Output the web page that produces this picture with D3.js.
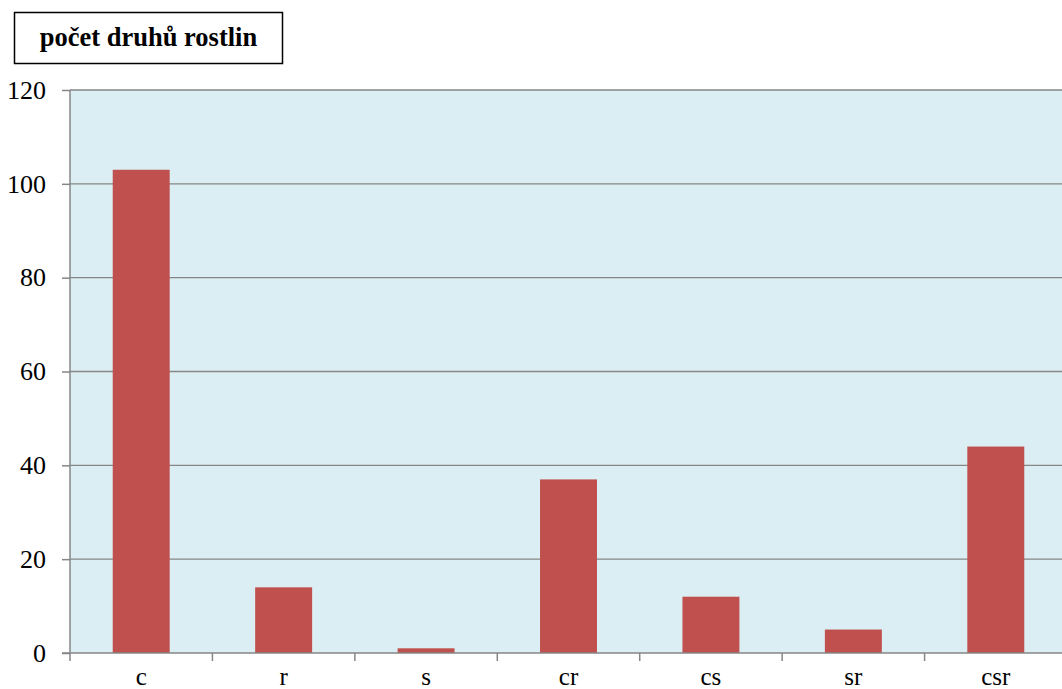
<!DOCTYPE html>
<html>
<head>
<meta charset="utf-8">
<script src="https://cdn.jsdelivr.net/npm/d3@7"></script>
<style>
  html, body { margin: 0; padding: 0; background: #ffffff; overflow: hidden; }
  svg { display: block; }
  .serif { font-family: "Liberation Serif", "Times New Roman", Times, serif; }
</style>
</head>
<body>
<svg id="chart" width="1062" height="689"></svg>
<script>
// Number of plant species per strategy group
const categories = ["c", "r", "s", "cr", "cs", "sr", "csr"];
const speciesCount = [103, 14, 1, 37, 12, 5, 44];
const yTicks = [0, 20, 40, 60, 80, 100, 120];
const titleText = "počet druhů rostlin";

const svg = d3.select("#chart");
const plot = { left: 70, right: 1067, top: 90, bottom: 653 };

const x = d3.scaleBand()
  .domain(categories)
  .range([plot.left, plot.right])
  .paddingInner(0.6)
  .paddingOuter(0.3);

const y = d3.scaleLinear()
  .domain([0, 120])
  .range([plot.bottom, plot.top]);

const grey = "#868686";

// plot background
svg.append("rect")
  .attr("x", plot.left).attr("y", plot.top)
  .attr("width", plot.right - plot.left)
  .attr("height", plot.bottom - plot.top)
  .attr("fill", "#DBEEF3");

// horizontal gridlines
svg.append("g")
  .selectAll("line")
  .data(yTicks.filter(d => d > 0))
  .join("line")
  .attr("x1", plot.left).attr("x2", plot.right)
  .attr("y1", d => y(d)).attr("y2", d => y(d))
  .attr("stroke", grey).attr("stroke-width", 1.3);

// bars
svg.append("g")
  .selectAll("rect")
  .data(categories.map((c, i) => ({ c, v: speciesCount[i] })))
  .join("rect")
  .attr("x", d => x(d.c))
  .attr("y", d => y(d.v))
  .attr("width", x.bandwidth())
  .attr("height", d => y(0) - y(d.v))
  .attr("fill", "#C0504D");

// y axis
const yAxis = svg.append("g")
  .attr("transform", `translate(${plot.left},0)`)
  .call(d3.axisLeft(y).tickValues(yTicks).tickSize(8).tickPadding(16).tickFormat(d3.format("d")));
yAxis.attr("font-family", null).attr("font-size", null);
yAxis.select(".domain").attr("stroke", grey).attr("stroke-width", 1.5).attr("d", `M0,${plot.top}V${plot.bottom}`);
yAxis.selectAll(".tick line").attr("stroke", grey).attr("stroke-width", 1.5);
yAxis.selectAll(".tick text")
  .attr("class", "serif").style("font-size", "26px").attr("fill", "#000");

// x axis: ticks on band boundaries
const boundaries = d3.range(0, categories.length + 1).map(i => plot.left + i * (plot.right - plot.left) / categories.length);
const xg = svg.append("g");
xg.append("line")
  .attr("x1", plot.left - 8).attr("x2", plot.right)
  .attr("y1", plot.bottom).attr("y2", plot.bottom)
  .attr("stroke", grey).attr("stroke-width", 1.5);
xg.selectAll("line.tick")
  .data(boundaries)
  .join("line")
  .attr("class", "tick")
  .attr("x1", d => d).attr("x2", d => d)
  .attr("y1", plot.bottom).attr("y2", plot.bottom + 8)
  .attr("stroke", grey).attr("stroke-width", 1.5);
xg.selectAll("text")
  .data(categories)
  .join("text")
  .attr("class", "serif")
  .attr("x", d => x(d) + x.bandwidth() / 2)
  .attr("y", 685)
  .attr("text-anchor", "middle")
  .style("font-size", "25px").attr("fill", "#000")
  .text(d => d);

// title box
svg.append("rect")
  .attr("x", 14.5).attr("y", 12.5).attr("width", 268).attr("height", 51)
  .attr("fill", "#fff").attr("stroke", "#000").attr("stroke-width", 1.5);
svg.append("text")
  .attr("class", "serif")
  .attr("x", 148.5).attr("y", 46)
  .attr("text-anchor", "middle")
  .style("font-weight", "bold").style("font-size", "26.5px")
  .attr("fill", "#000")
  .text(titleText);
</script>
</body>
</html>
